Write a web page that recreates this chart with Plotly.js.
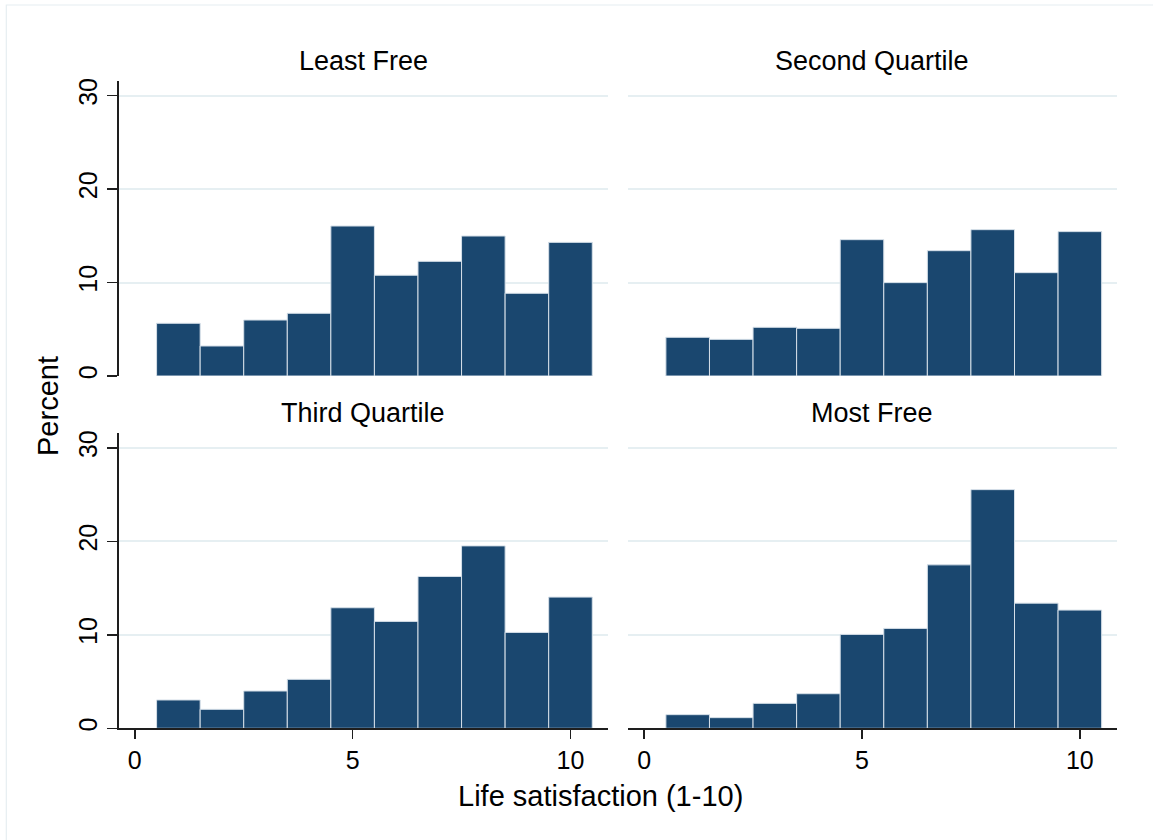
<!DOCTYPE html>
<html>
<head>
<meta charset="utf-8">
<script src="https://cdn.plot.ly/plotly-3.0.1.min.js"></script>
<style>html,body{margin:0;padding:0;background:#fff;}#chart{width:1153px;height:840px;}</style>
</head>
<body>
<div id="chart"></div>
<script>
// Life satisfaction score categories (1-10)
const scores = [1, 2, 3, 4, 5, 6, 7, 8, 9, 10];
// Percent of respondents by score, per economic freedom quartile
const leastFree      = [5.64, 3.21, 5.99, 6.71, 16.05, 10.78, 12.27, 14.98, 8.85, 14.30];
const secondQuartile = [4.14, 3.92, 5.21, 5.10, 14.59, 9.99, 13.41, 15.66, 11.06, 15.45];
const thirdQuartile  = [3.03, 2.03, 3.99, 5.24, 12.90, 11.44, 16.25, 19.52, 10.26, 14.04];
const mostFree       = [1.46, 1.14, 2.67, 3.70, 10.05, 10.69, 17.49, 25.54, 13.39, 12.65];
const panelTitles = ["Least Free", "Second Quartile", "Third Quartile", "Most Free"];
const xTickVals = [0, 5, 10];
const yTickVals = [0, 10, 20, 30];
const xTitle = "Life satisfaction (1-10)";
const yTitle = "Percent";

const W = 1153, H = 840;
const px = v => v / W;
const py = v => 1 - v / H;
const FONT = "Liberation Sans, Arial, Helvetica, sans-serif";
const BAR = "#1a476f";
const GRID = "#e6eff2";
const AXIS = "#1e1e1e";

const series = [leastFree, secondQuartile, thirdQuartile, mostFree];
// panel pixel boxes: [left, right, top, bottom]
const boxes = [
  [118.6, 607.5, 80.7, 376.0],
  [627.9, 1116.9, 80.7, 376.0],
  [118.6, 607.5, 433.0, 728.3],
  [627.9, 1116.9, 433.0, 728.3]
];

const traces = series.map((vals, i) => ({
  type: "bar",
  x: scores,
  y: vals,
  width: 1,
  xaxis: i === 0 ? "x" : "x" + (i + 1),
  yaxis: i === 0 ? "y" : "y" + (i + 1),
  marker: {color: BAR, line: {color: "#d5dfe8", width: 1}},
  hoverinfo: "x+y",
  showlegend: false
}));

const layout = {
  width: W, height: H,
  margin: {l: 0, r: 0, t: 0, b: 0},
  paper_bgcolor: "#ffffff",
  plot_bgcolor: "#ffffff",
  font: {family: FONT, color: "#000000", size: 22},
  bargap: 0,
  showlegend: false,
  annotations: [],
  shapes: [{
    type: "rect", xref: "paper", yref: "paper",
    x0: px(6.3), x1: px(1180), y0: py(5), y1: py(870),
    line: {color: "#e6eef1", width: 1.2}, fillcolor: "rgba(0,0,0,0)", layer: "below"
  }]
};

boxes.forEach((b, i) => {
  const sfx = i === 0 ? "" : String(i + 1);
  const isLeft = (i % 2 === 0);
  const isBottom = (i >= 2);
  layout["xaxis" + sfx] = {
    domain: [px(b[0]), px(b[1])],
    anchor: "y" + sfx,
    range: [-0.372, 10.85],
    tickvals: xTickVals,
    ticktext: xTickVals.map(String),
    showgrid: false,
    zeroline: false,
    showline: isBottom,
    linecolor: AXIS, linewidth: 1.4,
    ticks: isBottom ? "outside" : "",
    ticklen: 9, tickwidth: 1.4, tickcolor: AXIS,
    showticklabels: isBottom,
    tickfont: {family: FONT, size: 25, color: "#000"},
    fixedrange: true
  };
  layout["yaxis" + sfx] = {
    domain: [py(b[3]), py(b[2])],
    anchor: "x" + sfx,
    range: [0, 31.6],
    tickvals: yTickVals,
    ticktext: yTickVals.map(String),
    showgrid: true,
    gridcolor: GRID, gridwidth: 2,
    zeroline: false,
    showline: isLeft,
    linecolor: AXIS, linewidth: 1.4,
    ticks: isLeft ? "outside" : "",
    ticklen: 10, tickwidth: 1.4, tickcolor: AXIS,
    showticklabels: isLeft,
    tickangle: -90,
    tickfont: {family: FONT, size: 25, color: "#000"},
    fixedrange: true
  };
  layout.annotations.push({
    text: panelTitles[i],
    xref: "paper", yref: "paper",
    x: px((b[0] + b[1]) / 2), y: py(b[2] - 20),
    xanchor: "center", yanchor: "middle",
    showarrow: false,
    font: {family: FONT, size: 27, color: "#000"}
  });
});

layout.annotations.push({
  text: xTitle, xref: "paper", yref: "paper",
  x: px(600), y: py(796), xanchor: "center", yanchor: "middle",
  showarrow: false, font: {family: FONT, size: 29, color: "#000"}
});
layout.annotations.push({
  text: yTitle, xref: "paper", yref: "paper",
  x: px(48), y: py(406), xanchor: "center", yanchor: "middle",
  textangle: -90,
  showarrow: false, font: {family: FONT, size: 29, color: "#000"}
});

Plotly.newPlot("chart", traces, layout, {displayModeBar: false, staticPlot: true});
</script>
</body>
</html>
